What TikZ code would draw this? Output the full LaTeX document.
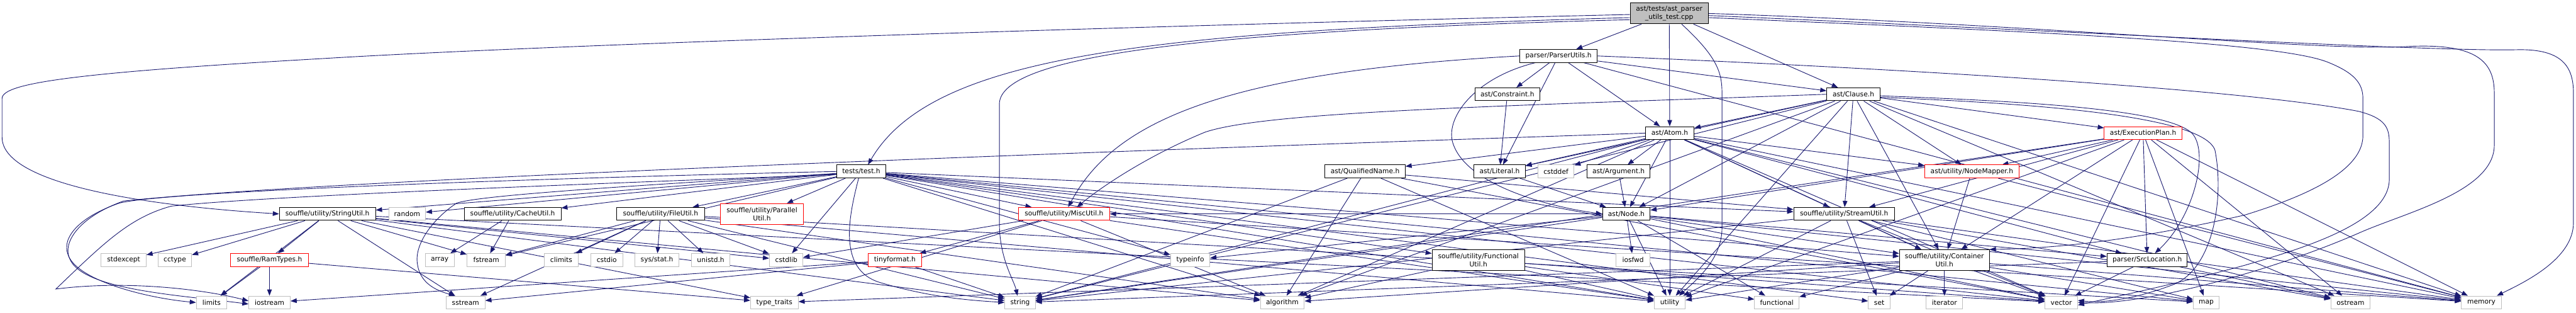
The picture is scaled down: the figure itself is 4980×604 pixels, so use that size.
\documentclass[tikz,border=0pt]{standalone}
\usepackage{fontspec}
\newfontfamily\dvsfont{DejaVu Sans}
\usetikzlibrary{arrows.meta}
\pgfdeclarelayer{bg}
\pgfsetlayers{bg,main}
\definecolor{edgeblue}{HTML}{191970}
\definecolor{sysgray}{HTML}{BFBFBF}
\definecolor{truncred}{HTML}{FF0000}
\definecolor{rootgray}{HTML}{BFBFBF}
\newcommand{\nodetxt}{\dvsfont\fontsize{13}{15.5}\selectfont}
\tikzset{
  base/.style={rectangle, inner xsep=3pt, inner ysep=0pt, minimum height=25pt,
    font=\nodetxt, line width=1.2pt, fill=white, anchor=center},
  doc/.style={base, draw=black},
  sys/.style={base, draw=sysgray},
  trunc/.style={base, draw=truncred},
  two/.style={align=center, minimum height=40pt},
  edge/.style={draw=edgeblue, line width=1.1pt, -{Triangle[length=12pt,width=9pt]}}
}
\begin{document}
\begin{tikzpicture}[x=1pt,y=-1pt]
\useasboundingbox (0,0) rectangle (4980,604);
% row 0-3
\node[doc,two,fill=rootgray,minimum width=151pt] (root) at (3227,26) {ast/tests/ast\_parser\\\_utils\_test.cpp};
\node[doc,minimum width=150pt] (parserutils) at (3013,108) {parser/ParserUtils.h};
\node[doc,minimum width=125pt] (constraint) at (2914,182) {ast/Constraint.h};
\node[doc,minimum width=103pt] (clause) at (3583,182) {ast/Clause.h};
\node[doc,minimum width=94pt] (atom) at (3228,257) {ast/Atom.h};
\node[trunc,minimum width=150pt] (execplan) at (4143,257) {ast/ExecutionPlan.h};
% row 4
\node[doc,minimum width=94pt] (testh) at (1665,331) {tests/test.h};
\node[doc,minimum width=155pt] (qualname) at (2639,331) {ast/QualifiedName.h};
\node[doc,minimum width=99pt] (literal) at (2899,331) {ast/Literal.h};
\node[sys,minimum width=70pt] (cstddef) at (3008,331) {cstddef};
\node[doc,minimum width=122pt] (argument) at (3129,331) {ast/Argument.h};
\node[trunc,minimum width=182pt] (nodemapper) at (3812,331) {ast/utility/NodeMapper.h};
% row 5
\node[doc,minimum width=186pt] (stringutil) at (633,413) {souffle/utility/StringUtil.h};
\node[sys,minimum width=71pt] (random) at (787,413) {random};
\node[doc,minimum width=187pt] (cacheutil) at (991,413) {souffle/utility/CacheUtil.h};
\node[doc,minimum width=170pt] (fileutil) at (1277,413) {souffle/utility/FileUtil.h};
\node[trunc,two,minimum width=160pt] (parallelutil) at (1473,413) {souffle/utility/Parallel\\Util.h};
\node[trunc,minimum width=176pt] (miscutil) at (2057,413) {souffle/utility/MiscUtil.h};
\node[doc,minimum width=92pt] (nodeh) at (3144,413) {ast/Node.h};
\node[doc,minimum width=195pt] (streamutil) at (3565,413) {souffle/utility/StreamUtil.h};
% row 6
\node[sys,minimum width=87pt] (stdexcept) at (239,502) {stdexcept};
\node[sys,minimum width=65pt] (cctype) at (338,502) {cctype};
\node[trunc,minimum width=150pt] (ramtypes) at (521,502) {souffle/RamTypes.h};
\node[sys,minimum width=56pt] (array) at (850,502) {array};
\node[sys,minimum width=74pt] (fstream) at (940,502) {fstream};
\node[sys,minimum width=66pt] (climits) at (1085,502) {climits};
\node[sys,minimum width=62pt] (cstdio) at (1173,502) {cstdio};
\node[sys,minimum width=85pt] (sysstat) at (1270,502) {sys/stat.h};
\node[sys,minimum width=75pt] (unistd) at (1374,502) {unistd.h};
\node[sys,minimum width=65pt] (cstdlib) at (1520,502) {cstdlib};
\node[trunc,minimum width=103pt] (tinyformat) at (1730,502) {tinyformat.h};
\node[sys,minimum width=76pt] (typeinfo) at (2301,502) {typeinfo};
\node[doc,two,minimum width=179pt] (functionalutil) at (2858,502) {souffle/utility/Functional\\Util.h};
\node[sys,minimum width=65pt] (iosfwd) at (3157,502) {iosfwd};
\node[doc,two,minimum width=174pt] (containerutil) at (3759,502) {souffle/utility/Container\\Util.h};
\node[doc,minimum width=155pt] (srclocation) at (4151,502) {parser/SrcLocation.h};
% row 7
\node[sys,minimum width=59pt] (limits) at (409,584) {limits};
\node[sys,minimum width=80pt] (iostream) at (521,584) {iostream};
\node[sys,minimum width=75pt] (sstream) at (900,584) {sstream};
\node[sys,minimum width=92pt] (typetraits) at (1497,584) {type\_traits};
\node[sys,minimum width=59pt] (string) at (1972,584) {string};
\node[sys,minimum width=85pt] (algorithm) at (2479,584) {algorithm};
\node[sys,minimum width=60pt] (utility) at (3228,584) {utility};
\node[sys,minimum width=86pt] (functional) at (3435,584) {functional};
\node[sys,minimum width=42pt] (set) at (3633,584) {set};
\node[sys,minimum width=71pt] (iterator) at (3759,584) {iterator};
\node[sys,minimum width=63pt] (vector) at (3985,584) {vector};
\node[sys,minimum width=50pt] (map) at (4265,584) {map};
\node[sys,minimum width=76pt] (ostream) at (4544,584) {ostream};
\node[sys,minimum width=77pt] (memory) at (4797,584) {memory};

\begin{pgfonlayer}{bg}
% curved edges
\draw[edge] ([yshift=-2pt]root.west) .. controls (2000,55) and (1000,90) .. (625,113)
  .. controls (150,140) and (4,160) .. (4,190) -- (4,265)
  .. controls (4,350) and (250,395) .. (stringutil.west);
\draw[edge] ([yshift=-8pt]root.west) .. controls (2200,60) and (1800,110) .. ([xshift=13pt]testh.north);
\draw[edge] ([yshift=-12pt]root.west) .. controls (2300,60) and (1935,110) .. (1932,200)
  -- (1932,430) .. controls (1932,500) and (1960,540) .. ([xshift=-5pt]string.north);
\draw[edge] ([xshift=24pt]root.south) .. controls (3320,110) and (3329,140) .. (3329,180)
  -- (3329,440) .. controls (3329,500) and (3280,540) .. ([xshift=18pt]utility.north);
\draw[edge] (root.east) .. controls (3900,45) and (4500,100) .. (4650,90)
  .. controls (4790,82) and (4822,120) .. (4822,180) -- (4822,280)
  .. controls (4822,370) and (4650,410) .. (4560,450)
  .. controls (4400,520) and (4150,590) .. (vector.east);
\draw[edge] ([yshift=-4pt]root.east) .. controls (4000,60) and (4700,100) .. (4866,96)
  .. controls (4955,94) and (4975,130) .. (4975,180) -- (4975,430)
  .. controls (4975,500) and (4880,545) .. ([xshift=30pt]memory.north);
\draw[edge] ([yshift=-8pt]root.east) .. controls (3900,60) and (4400,80) .. (4500,120)
  .. controls (4550,140) and (4568,160) .. (4568,190) -- (4568,262)
  .. controls (4568,340) and (4420,390) .. (4340,415)
  .. controls (4100,470) and (3950,480) .. (containerutil.north east);
\draw[edge] (parserutils.east) .. controls (3500,125) and (4300,165) .. (4560,215)
  .. controls (4610,228) and (4619,245) .. (4619,275) -- (4619,346)
  .. controls (4619,430) and (4450,480) .. (4340,512)
  .. controls (4200,550) and (4080,575) .. ([yshift=-5pt]vector.east);
\draw[edge] ([yshift=-3pt]clause.east) .. controls (3900,195) and (4200,210) .. (4240,260)
  .. controls (4270,300) and (4240,420) .. ([xshift=15pt]srclocation.north);
\draw[edge] ([yshift=-6pt]clause.east) .. controls (3950,200) and (4260,225) .. (4282,290)
  .. controls (4300,380) and (4280,520) .. (4200,550)
  .. controls (4120,580) and (4060,585) .. ([yshift=4pt]vector.east);
\draw[edge] (parserutils.west) .. controls (2350,140) and (2150,240) .. ([xshift=8pt]miscutil.north);
\draw[edge] (clause.west) .. controls (2900,205) and (2450,215) .. (2330,255)
  .. controls (2220,300) and (2130,360) .. ([xshift=25pt]miscutil.north);
\draw[edge] ([xshift=-45pt]parserutils.south) .. controls (2850,150) and (2790,230) .. (2810,280)
  .. controls (2840,360) and (3000,400) .. (nodeh.west);
\draw[edge] (testh.west) .. controls (1000,345) and (320,370) .. (231,392)
  .. controls (150,420) and (120,460) .. (131,490)
  .. controls (145,540) and (280,575) .. (limits.west);
\draw[edge] (atom.west) .. controls (2500,280) and (700,340) .. (239,388)
  .. controls (150,420) and (120,470) .. (135,500)
  .. controls (160,560) and (350,570) .. ([yshift=-3pt]iostream.west);
\draw[edge] ([yshift=-6pt]testh.west) .. controls (1000,360) and (500,380) .. (331,398)
  .. controls (250,420) and (200,470) .. (108,558)
  .. controls (250,540) and (400,560) .. ([yshift=3pt]iostream.west);
\draw[edge] ([yshift=-4pt]testh.west) .. controls (1100,365) and (920,380) .. (883,392)
  .. controls (840,420) and (800,470) .. (807,510)
  .. controls (812,545) and (840,560) .. ([xshift=-20pt]sstream.north);
\draw[edge] ([xshift=-5pt]testh.south) .. controls (1640,420) and (1620,520) .. (1700,545)
  .. controls (1800,575) and (1880,580) .. (string.west);
% straight edges
\foreach \a/\b in {root/parserutils, root/atom, root/clause,
  parserutils/constraint, parserutils/literal, parserutils/atom, parserutils/clause,
  parserutils/memory,
  constraint/literal,
  clause/atom, clause/execplan, clause/literal, clause/nodeh, clause/nodemapper,
  clause/containerutil, clause/streamutil, clause/algorithm,
  clause/memory, clause/ostream, clause/string, clause/utility,
  atom/argument, atom/literal, atom/nodeh, atom/qualname, atom/nodemapper,
  atom/srclocation, atom/containerutil, atom/streamutil, atom/algorithm, atom/cstddef,
  atom/memory, atom/ostream, atom/string, atom/utility, atom/vector,
  execplan/nodeh, execplan/nodemapper, execplan/srclocation, execplan/containerutil,
  execplan/streamutil, execplan/map, execplan/memory, execplan/ostream, execplan/string,
  execplan/utility, execplan/vector,
  testh/stringutil, testh/random, testh/cacheutil, testh/fileutil, testh/parallelutil,
  testh/miscutil, testh/streamutil, testh/containerutil, testh/functionalutil,
  testh/typeinfo, testh/cstdlib, testh/fstream, testh/algorithm, testh/utility,
  testh/vector, testh/set, testh/map,
  qualname/streamutil, qualname/algorithm, qualname/string, qualname/utility, qualname/vector,
  literal/nodeh, argument/nodeh,
  nodemapper/containerutil, nodemapper/memory,
  stringutil/ramtypes, stringutil/stdexcept, stringutil/cctype, stringutil/limits,
  stringutil/fstream, stringutil/sstream, stringutil/string, stringutil/typetraits,
  stringutil/algorithm, stringutil/vector, stringutil/cstdlib,
  ramtypes/limits, ramtypes/iostream, ramtypes/typetraits,
  cacheutil/array, cacheutil/fstream,
  fileutil/climits, fileutil/cstdio, fileutil/sysstat, fileutil/unistd, fileutil/cstdlib,
  fileutil/fstream, fileutil/sstream, fileutil/string, fileutil/algorithm,
  fileutil/utility, fileutil/map,
  miscutil/tinyformat, miscutil/cstdlib, miscutil/typetraits, miscutil/utility,
  miscutil/memory, miscutil/algorithm,
  tinyformat/iostream, tinyformat/sstream, tinyformat/string,
  nodeh/miscutil, nodeh/iosfwd, nodeh/typeinfo, nodeh/functional, nodeh/utility,
  nodeh/memory, nodeh/string, nodeh/vector, nodeh/srclocation, nodeh/containerutil,
  streamutil/containerutil, streamutil/set, streamutil/utility, streamutil/map,
  streamutil/memory, streamutil/ostream, streamutil/string, streamutil/vector,
  functionalutil/algorithm, functionalutil/functional, functionalutil/utility,
  functionalutil/vector,
  containerutil/iterator, containerutil/vector, containerutil/set,
  containerutil/functional, containerutil/utility, containerutil/map,
  containerutil/memory, containerutil/algorithm, containerutil/typetraits,
  srclocation/vector, srclocation/string, srclocation/ostream}
  {\draw[edge] (\a) -- (\b);}
\end{pgfonlayer}
\end{tikzpicture}
\end{document}
